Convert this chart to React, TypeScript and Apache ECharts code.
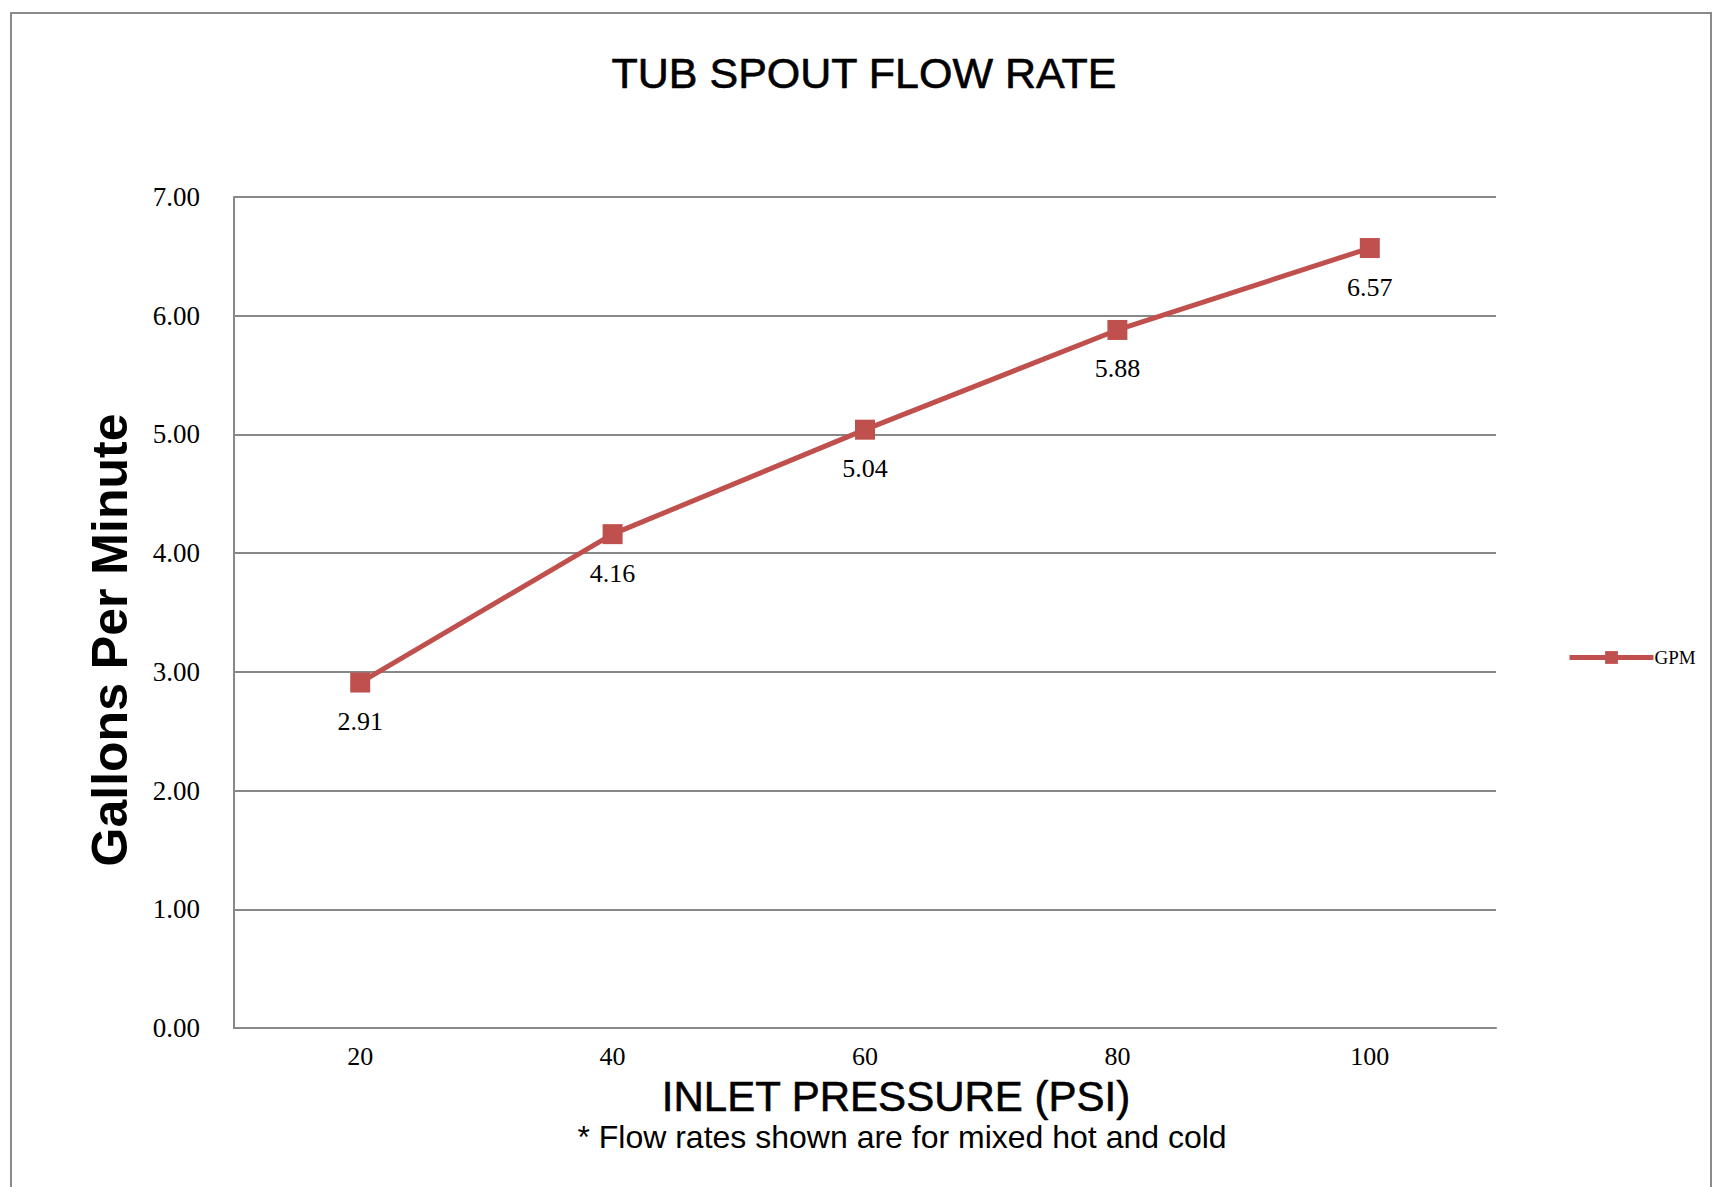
import React, { useEffect, useRef } from "react";
import * as echarts from "echarts";

const pressures = ["20", "40", "60", "80", "100"];
const gpmValues = [2.91, 4.16, 5.04, 5.88, 6.57];
const seriesName = "GPM";
const chartTitle = "TUB SPOUT FLOW RATE";
const yAxisTitle = "Gallons Per Minute";
const xAxisTitle = "INLET PRESSURE (PSI)";
const footnote = "* Flow rates shown are for mixed hot and cold";

const SANS = "'Liberation Sans', Arial, sans-serif";
const SERIF = "'Liberation Serif', 'Times New Roman', serif";

export default function App() {
  const ref = useRef<HTMLDivElement>(null);
  useEffect(() => {
    if (!ref.current) return;
    const chart = echarts.init(ref.current, null, { renderer: "svg" });
    chart.setOption({
      animation: false,
      backgroundColor: "#ffffff",
      grid: { left: 234, right: 221, top: 197, bottom: 159, containLabel: false },
      legend: {
        data: [seriesName],
        left: 1562,
        top: 643,
        itemWidth: 84,
        itemHeight: 16,
        itemGap: 4,
        lineStyle: { width: 5 },
        textStyle: { fontFamily: SERIF, fontSize: 19, color: "#000", padding: [0, 0, 0, -4] },
      },
      xAxis: {
        type: "category",
        data: pressures,
        boundaryGap: true,
        axisLine: { show: true, lineStyle: { color: "#888888", width: 2 } },
        axisTick: { show: false },
        axisLabel: { fontFamily: SERIF, fontSize: 26, color: "#000", margin: 15 },
        splitLine: { show: false },
      },
      yAxis: {
        type: "value",
        min: 0,
        max: 7,
        interval: 1,
        axisLine: { show: true, lineStyle: { color: "#888888", width: 2 } },
        axisTick: { show: false },
        axisLabel: {
          fontFamily: SERIF,
          fontSize: 27,
          color: "#000",
          margin: 34,
          formatter: (v: number) => v.toFixed(2),
        },
        splitLine: { show: true, lineStyle: { color: "#888888", width: 2 } },
      },
      series: [
        {
          name: seriesName,
          type: "line",
          data: gpmValues,
          color: "#C0504D",
          lineStyle: { color: "#C0504D", width: 5 },
          itemStyle: { color: "#C0504D" },
          symbol: "rect",
          symbolSize: 20,
          label: {
            show: true,
            position: "bottom",
            distance: 16,
            fontFamily: SERIF,
            fontSize: 26,
            color: "#000",
            formatter: (p: any) => Number(p.value).toFixed(2),
          },
        },
      ],
      graphic: [
        {
          type: "rect",
          silent: true,
          shape: { x: 11, y: 13, width: 1700, height: 1200 },
          style: { fill: "none", stroke: "#8a8a8a", lineWidth: 2 },
        },
        {
          type: "text",
          x: 864,
          y: 73,
          style: {
            text: chartTitle,
            fontFamily: SANS,
            fontSize: 43,
            fill: "#000",
            stroke: "#000",
            lineWidth: 0.6,
            align: "center",
            verticalAlign: "middle",
          },
        },
        {
          type: "text",
          x: 110,
          y: 640,
          rotation: Math.PI / 2,
          style: {
            text: yAxisTitle,
            fontFamily: SANS,
            fontWeight: "bold",
            fontSize: 50,
            fill: "#000",
            align: "center",
            verticalAlign: "middle",
          },
        },
        {
          type: "text",
          x: 896,
          y: 1096,
          style: {
            text: xAxisTitle,
            fontFamily: SANS,
            fontSize: 42,
            fill: "#000",
            stroke: "#000",
            lineWidth: 0.6,
            align: "center",
            verticalAlign: "middle",
          },
        },
        {
          type: "text",
          x: 902,
          y: 1137,
          style: {
            text: footnote,
            fontFamily: SANS,
            fontSize: 32,
            fill: "#000",
            align: "center",
            verticalAlign: "middle",
          },
        },
      ],
    });
    return () => chart.dispose();
  }, []);
  return (
    <div
      ref={ref}
      style={{ position: "fixed", left: 0, top: 0, width: 1717, height: 1187, background: "#fff" }}
    />
  );
}
